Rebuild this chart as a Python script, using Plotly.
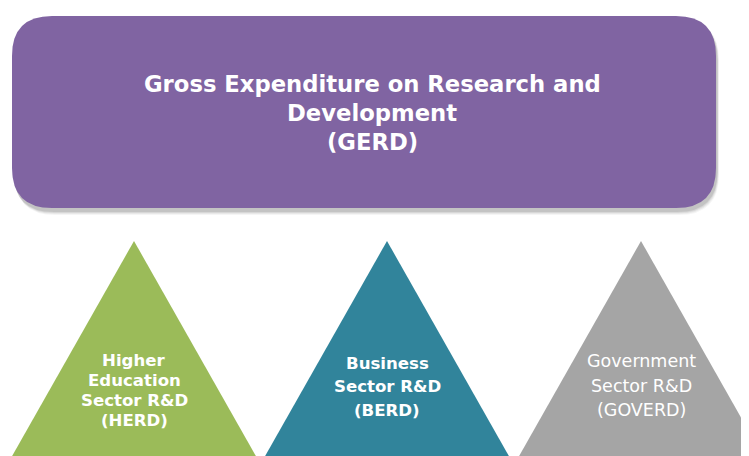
import plotly.graph_objects as go

# Texts and fills of the diagram
top_label = ["Gross Expenditure on Research and", "Development", "(GERD)"]
top_color = "#8064A2"

sector_names = ["HERD", "BERD", "GOVERD"]
sector_labels = [
    ["Higher", "Education", "Sector R&D", "(HERD)"],
    ["Business", "Sector R&D", "(BERD)"],
    ["Government", "Sector R&D", "(GOVERD)"],
]
sector_colors = ["#9BBB59", "#31849B", "#A5A5A5"]

W, H = 749, 456
OFF = 8  # page body margin, so data units == page pixels
FONT = "DejaVu Sans"


def rounded_rect(x0, y0, x1, y1, r):
    return (f"M {x0+r},{y0} L {x1-r},{y0} Q {x1},{y0} {x1},{y0+r} "
            f"L {x1},{y1-r} Q {x1},{y1} {x1-r},{y1} L {x0+r},{y1} "
            f"Q {x0},{y1} {x0},{y1-r} L {x0},{y0+r} Q {x0},{y0} {x0+r},{y0} Z")


fig = go.Figure()

# soft shadow under the box
for i, a in enumerate([0.04, 0.05, 0.07, 0.09]):
    d = 6 - i
    fig.add_shape(type="path", path=rounded_rect(12 + d * 0.5, 16 + 4, 716 + d * 0.5, 208 + 1 + d, 40),
                  fillcolor=f"rgba(0,0,0,{a})", line=dict(width=0), layer="below")

fig.add_shape(type="path", path=rounded_rect(12, 16, 716, 208, 40),
              fillcolor=top_color, line=dict(width=0), layer="below")

for line, y in zip(top_label, [84, 113, 142]):
    fig.add_annotation(x=372, y=y, text=line, showarrow=False,
                       font=dict(family=FONT, size=22.7, color="white", weight="bold"))

# triangles: apex x, base half width
apex_x = [134, 387, 641]
apex_y = 241
half_base = 123
line_y = [[360, 380, 400, 420], [363, 386, 410], [361, 386, 410]]
sizes = [16.6, 16.6, 17.5]
weights = ["bold", "bold", "normal"]

for name, lab, col, ax, ys, sz, wt in zip(sector_names, sector_labels, sector_colors,
                                          apex_x, line_y, sizes, weights):
    fig.add_trace(go.Scatter(
        x=[ax, ax + half_base, ax - half_base, ax],
        y=[apex_y, H + 2, H + 2, apex_y],
        mode="lines", fill="toself", fillcolor=col,
        line=dict(width=0, color=col), name=name, hoverinfo="name"))
    for line, y in zip(lab, ys):
        fig.add_annotation(x=ax, y=y, text=line, showarrow=False,
                           font=dict(family=FONT, size=sz, color="white", weight=wt))

fig.update_xaxes(range=[OFF, W + OFF], visible=False, fixedrange=True)
fig.update_yaxes(range=[H + OFF, OFF], visible=False, fixedrange=True)
fig.update_layout(width=W, height=H, margin=dict(l=0, r=0, t=0, b=0),
                  plot_bgcolor="white", paper_bgcolor="white", showlegend=False)

fig.write_html("out.html", config={"displayModeBar": False})
